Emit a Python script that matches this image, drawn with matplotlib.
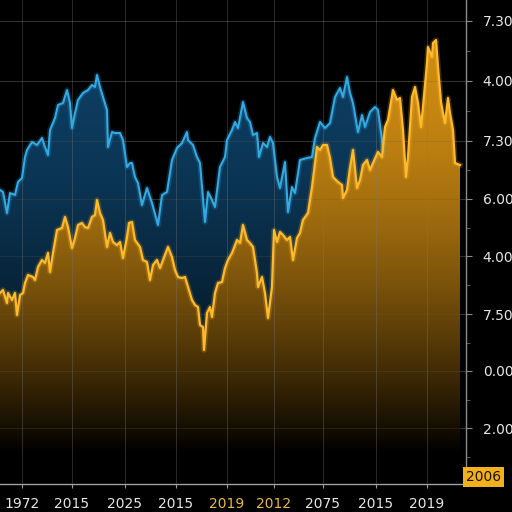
import matplotlib
matplotlib.use("Agg")
import matplotlib.pyplot as plt
import numpy as np
from matplotlib.ticker import FixedLocator

# ---- data ----
blue_x = [0,3,7,10,15,18,22,25,27,32,37,42,45,48,50,55,58,63,67,70,72,75,78,83,88,92,95,97,100,103,107,108,112,115,120,123,127,130,132,135,138,142,147,152,158,162,167,172,177,182,187,188,193,197,200,205,208,212,215,220,225,227,232,235,238,243,247,250,253,257,259,263,267,270,273,277,280,285,288,292,295,300,307,312,315,320,325,330,335,340,343,347,350,353,358,362,365,370,375,378,382,383]
blue_v = [294,292,271,291,289,302,306,327,334,342,339,346,337,329,354,366,379,381,394,381,356,371,384,391,394,399,397,409,397,387,374,337,352,351,351,344,317,321,321,307,301,279,296,281,259,289,292,324,336,341,352,344,339,327,321,262,292,284,277,317,327,344,354,362,356,382,366,362,349,351,327,341,337,347,341,307,296,322,272,297,291,324,326,327,346,362,356,361,387,396,387,407,391,381,352,369,357,372,377,374,344,332]

gold_x = [0,3,7,8,12,15,17,20,23,25,28,33,35,38,42,45,48,50,53,57,62,65,68,72,75,78,82,85,88,92,95,97,100,103,107,110,113,117,120,123,127,129,132,135,140,143,147,150,153,157,160,163,168,172,175,178,182,185,188,192,195,198,200,203,204,207,210,212,215,218,222,225,228,232,237,240,243,247,250,253,257,258,262,265,268,272,274,277,280,283,287,290,293,297,300,303,308,312,317,320,323,327,330,333,338,342,343,347,350,353,357,360,363,367,370,373,378,382,385,388,393,397,400,403,406,408,412,415,418,421,423,427,428,432,433,436,438,441,443,445,448,450,453,455,460]
gold_v = [191,194,181,191,184,191,169,189,191,201,209,207,204,217,224,221,231,212,231,254,256,267,257,236,246,259,261,257,256,267,269,284,271,264,237,251,242,239,242,226,247,261,262,244,237,224,222,204,219,224,216,224,237,227,214,207,206,207,197,184,179,177,159,157,134,171,177,167,191,201,202,216,224,231,244,241,259,244,241,237,211,197,207,191,166,197,254,242,252,249,244,247,224,246,251,264,271,297,337,334,339,339,326,307,302,299,286,294,316,334,296,304,319,324,314,321,332,327,357,364,394,384,386,354,307,327,387,397,381,357,377,421,437,427,441,444,417,382,371,361,386,371,354,321,319]

x_ticks = [22, 72, 125, 176, 227, 274, 323, 376, 427]
x_labels = ["1972", "2015", "2025", "2015", "2019", "2012", "2075", "2015", "2019"]
x_label_colors = ["#e6e6e6", "#e6e6e6", "#e6e6e6", "#e6e6e6", "#e9b949", "#e9b949", "#e6e6e6", "#e6e6e6", "#e6e6e6"]
y_ticks = [56, 113, 170, 228, 285, 343, 403, 463]
y_labels = ["2.00", "0.00", "7.50", "4.00", "6.00", "7.30", "4.00", "7.30"]
badge_text = "2006"

assert len(blue_x) == len(blue_v) and len(gold_x) == len(gold_v)

# ---- figure ----
fig = plt.figure(figsize=(5.12, 5.12), dpi=100, facecolor="black")
ax = fig.add_axes([0.0, 28/512, 466/512, 484/512], facecolor="black")
XMAX, YMAX = 466, 484
ax.set_xlim(0, XMAX)
ax.set_ylim(0, YMAX)

def gradient_fill(x, y, top_rgb, z, lo=30, hi=420, p=1.6):
    poly = ax.fill_between(x, y, 0, color="none", lw=0, zorder=z)
    yy = np.linspace(0, YMAX, 400)
    t = np.clip((yy - lo) / (hi - lo), 0, 1)
    f = 1 - (1 - t) ** p
    rgba = np.ones((400, 1, 4))
    for i in range(3):
        rgba[:, 0, i] = top_rgb[i] * f
    im = ax.imshow(rgba, extent=[0, XMAX, 0, YMAX], origin="lower",
                   aspect="auto", zorder=z, interpolation="bilinear")
    im.set_clip_path(poly.get_paths()[0], transform=ax.transData)

for yv in y_ticks:
    ax.axhline(yv, color="#2c2c2c", lw=0.8, alpha=0.8, zorder=0.5)

gradient_fill(blue_x, blue_v, (0.05, 0.24, 0.38), 1)
gradient_fill(gold_x, gold_v, (0.80, 0.54, 0.07), 2)

for yv in y_ticks:
    ax.axhline(yv, color="#6a5a40", lw=0.7, alpha=0.25, zorder=2.5)
for xv in x_ticks:
    ax.axvline(xv, color="#7a7a7a", lw=0.7, alpha=0.35, zorder=2.5)

ax.plot(blue_x, blue_v, color="#2ba3e0", lw=4, alpha=0.22, zorder=3)
ax.plot(blue_x, blue_v, color="#34aae4", lw=1.5, zorder=3.1)
ax.plot(gold_x, gold_v, color="#ffb52a", lw=4, alpha=0.22, zorder=4)
ax.plot(gold_x, gold_v, color="#ffba2a", lw=1.6, zorder=4.1)

# axes styling
for s in ["top", "left"]:
    ax.spines[s].set_visible(False)
ax.spines["right"].set_color("#8a8a8a")
ax.spines["bottom"].set_color("#a0a0a0")
ax.spines["right"].set_linewidth(1.0)
ax.spines["bottom"].set_linewidth(1.0)

ax.xaxis.set_major_locator(FixedLocator(x_ticks))
ax.set_xticklabels(x_labels)
ax.tick_params(axis="x", colors="#9a9a9a", length=3, pad=6, labelsize=10)
for lab, c in zip(ax.get_xticklabels(), x_label_colors):
    lab.set_color(c)

ax.yaxis.tick_right()
ax.yaxis.set_major_locator(FixedLocator(y_ticks))
minor = [(a + b) / 2 for a, b in zip(y_ticks[:-1], y_ticks[1:])] + [y_ticks[0] - 28.5]
ax.yaxis.set_minor_locator(FixedLocator(minor))
ax.set_yticklabels(y_labels)
ax.tick_params(axis="y", which="major", colors="#8a8a8a", length=4, pad=8, labelsize=10, labelcolor="#e6e6e6")
ax.tick_params(axis="y", which="minor", colors="#6a6a6a", length=3)

ax.text(1.0, 0.0, badge_text, transform=ax.transAxes, ha="left", va="bottom",
        fontsize=10, color="#1a1206",
        bbox=dict(boxstyle="square,pad=0.2", facecolor="#f2b01e", edgecolor="none"))

fig.savefig("out.png", dpi=100, facecolor="black")
